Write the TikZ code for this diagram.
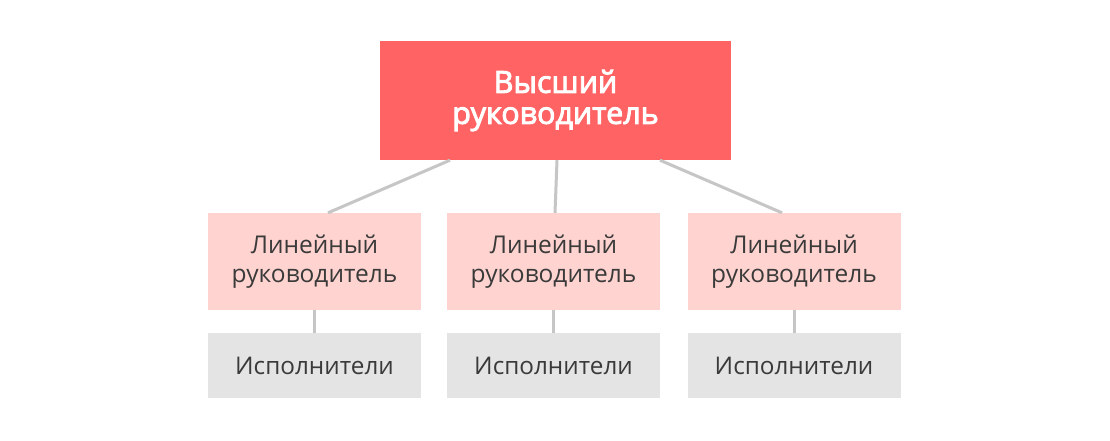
\documentclass[tikz,border=0pt]{standalone}
\usepackage{fontspec}
\setmainfont{Open Sans}
\newfontfamily\headfont{Open Sans}[FakeBold=3]
\definecolor{topred}{HTML}{FF6363}
\definecolor{midpink}{HTML}{FFD4D0}
\definecolor{lowgray}{HTML}{E4E4E4}
\definecolor{linkgray}{HTML}{C6C6C6}
\definecolor{textgray}{HTML}{3A3A3A}
\tikzset{
  headbox/.style={fill=topred, text=white, minimum width=351pt, minimum height=119pt,
    inner sep=0pt, align=center, font=\headfont\fontsize{30.5}{31}\selectfont},
  linebox/.style={fill=midpink, text=textgray, minimum width=213pt, minimum height=97pt,
    inner sep=0pt, align=center, font=\fontsize{24.5}{28.5}\selectfont},
  workbox/.style={fill=lowgray, text=textgray, minimum width=213pt, minimum height=65pt,
    inner sep=0pt, align=center, font=\fontsize{24.3}{28}\selectfont},
  link/.style={draw=linkgray, line width=3pt}
}
\begin{document}
\begin{tikzpicture}[x=1pt,y=-1pt]
    \useasboundingbox[fill=white] (0,0) rectangle (1110,440);

    \node[headbox] (head) at (555.5,100.5) {Высший\\руководитель};

    \node[linebox] (lead1) at (314.5,261.5) {Линейный\\руководитель};
    \node[linebox] (lead2) at (553.5,261.5) {Линейный\\руководитель};
    \node[linebox] (lead3) at (794,261.5) {Линейный\\руководитель};

    \node[workbox] (team1) at (314.5,365.5) {Исполнители};
    \node[workbox] (team2) at (553.5,365.5) {Исполнители};
    \node[workbox] (team3) at (794,365.5) {Исполнители};

    \draw[link] ([xshift=-105.5pt]head.south) -- ([xshift=13.5pt]lead1.north);
    \draw[link] ([xshift=1.5pt]head.south) -- ([xshift=1.5pt]lead2.north);
    \draw[link] ([xshift=104.5pt]head.south) -- ([xshift=-12pt]lead3.north);

    \draw[link] (lead1.south) -- (team1.north);
    \draw[link] (lead2.south) -- (team2.north);
    \draw[link] (lead3.south) -- (team3.north);
\end{tikzpicture}
\end{document}
